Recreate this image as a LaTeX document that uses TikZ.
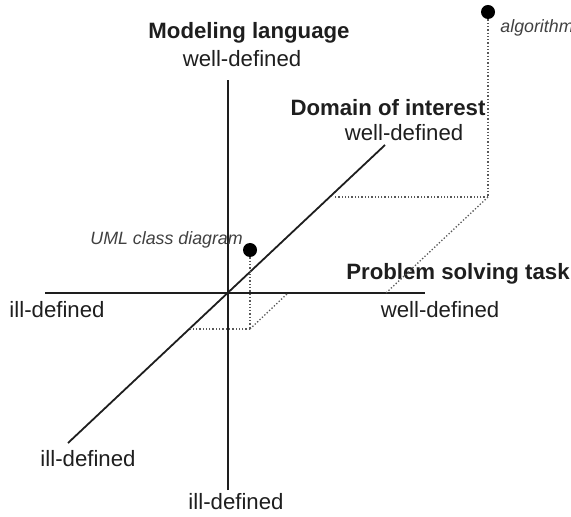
\documentclass[tikz,border=0pt]{standalone}
\usepackage{fontspec}
\setmainfont{Liberation Sans}
\usetikzlibrary{positioning}
\definecolor{AxisInk}{HTML}{1E1E1E}
\definecolor{GuideInk}{HTML}{585858}

\begin{document}
\begin{tikzpicture}[x=0.5pt, y=-0.5pt]
    \tikzstyle{axis} = [draw=AxisInk, line width=0.9pt]
    \tikzstyle{guide} = [draw=GuideInk, line width=0.65pt, densely dotted]
    \tikzstyle{axlabel} = [inner sep=0pt, anchor=base, text=AxisInk, font=\fontsize{11.1}{13}\selectfont]
    \tikzstyle{axtitle} = [axlabel, font=\fontsize{11.1}{13}\selectfont\bfseries]
    \tikzstyle{ptlabel} = [inner sep=0pt, anchor=base west, text=AxisInk!85, font=\fontsize{8.9}{10}\selectfont\itshape]
    \tikzstyle{dot} = [circle, fill=black, inner sep=0pt, minimum size=7pt]

    \useasboundingbox (0,0) rectangle (571,517);

    % axes
    \coordinate (O) at (228,293);
    \coordinate (mtop) at (228,80);
    \coordinate (mbot) at (228,490);
    \coordinate (pleft) at (45,293);
    \coordinate (pright) at (425,293);
    \coordinate (dlow) at (68,443);
    \coordinate (dhigh) at (385,145);

    \draw [axis] (mbot) -- (mtop);
    \draw [axis] (pleft) -- (pright);
    \draw [axis] (dlow) -- (dhigh);

    % axis labels
    \node [axtitle] (mtitle) at (249,39) {Modeling language};
    \node [axlabel] (mwell) at (242,67) {well-defined};
    \node [axlabel] (mill) at (236,509) {ill-defined};
    \node [axtitle] (dtitle) at (388,116) {Domain of interest};
    \node [axlabel] (dwell) at (404,141) {well-defined};
    \node [axlabel] (dill) at (88,466) {ill-defined};
    \node [axtitle] (ptitle) at (458,280) {Problem solving task};
    \node [axlabel] (pwell) at (440,317) {well-defined};
    \node [axlabel] (pill) at (57,318) {ill-defined};

    % points and their projections
    \node [dot] (uml) at (250,250) {};
    \node [ptlabel] (umllabel) at (90,245) {UML class diagram};
    \coordinate (umlg) at (250,329);
    \coordinate (umlp) at (288,293);
    \coordinate (umld) at (190,329);

    \node [dot] (algo) at (488,12) {};
    \node [ptlabel] (algolabel) at (500,33) {algorithm};
    \coordinate (algg) at (488,197);
    \coordinate (algp) at (386,293);
    \coordinate (algd) at (333,197);

    \draw [guide] (uml) -- (umlg);
    \draw [guide] (umlg) -- (umld);
    \draw [guide] (umlg) -- (umlp);
    \draw [guide] (algo) -- (algg);
    \draw [guide] (algg) -- (algd);
    \draw [guide] (algg) -- (algp);
\end{tikzpicture}
\end{document}
